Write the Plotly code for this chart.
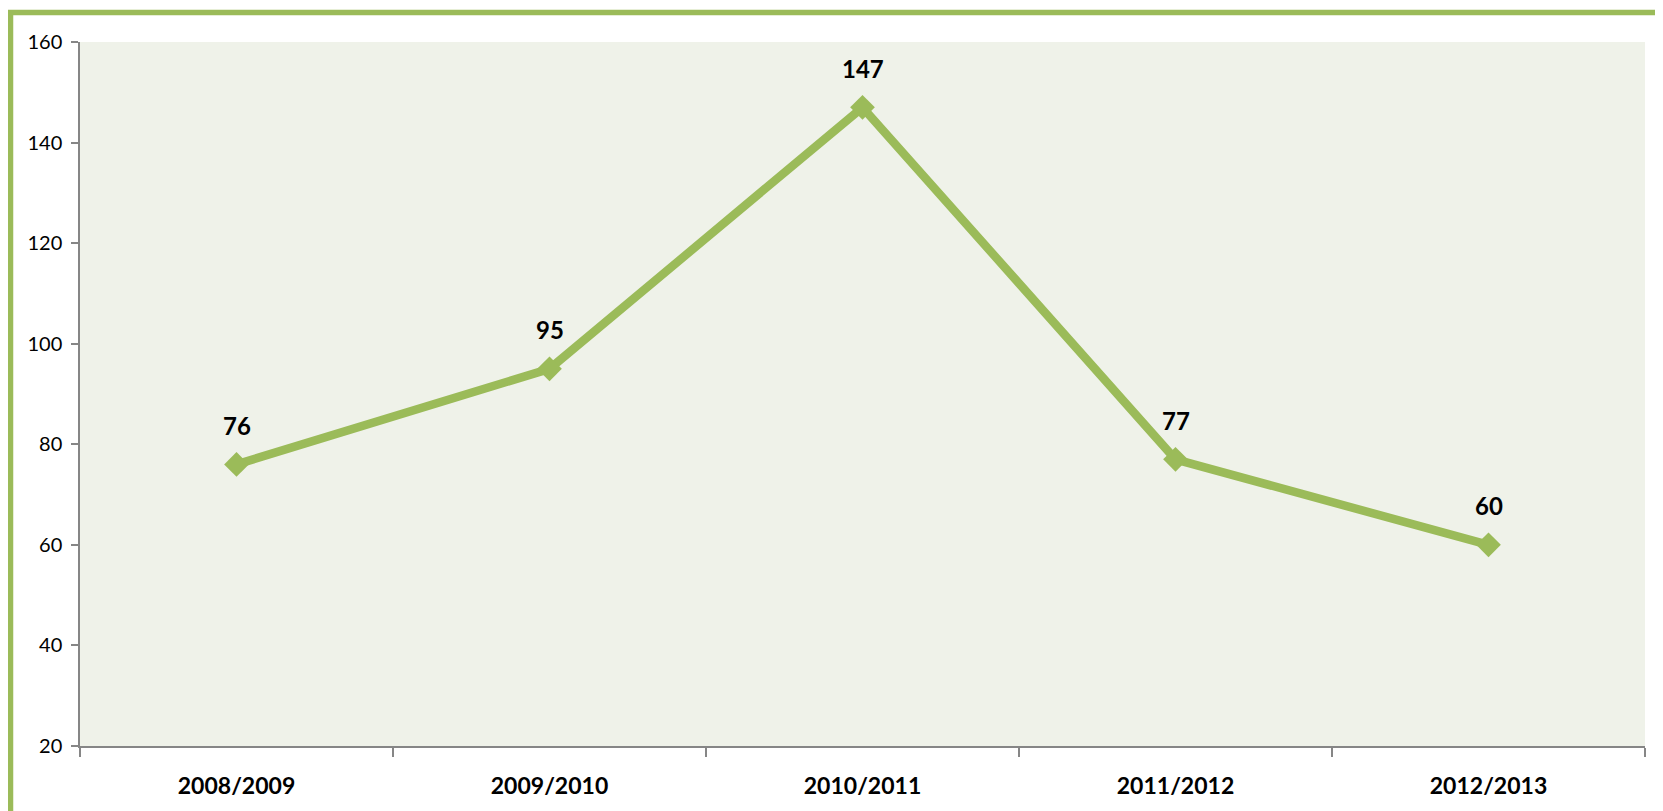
import plotly.graph_objects as go

categories = ["2008/2009", "2009/2010", "2010/2011", "2011/2012", "2012/2013"]
values = [76, 95, 147, 77, 60]
y_ticks = [20, 40, 60, 80, 100, 120, 140, 160]

GREEN = "#9BBB59"
AXIS = "#868686"
FONT = "Lato, 'Open Sans', sans-serif"

fig = go.Figure()
fig.add_trace(go.Scatter(
    x=categories, y=values, mode="lines+markers",
    line=dict(color=GREEN, width=8.5),
    marker=dict(symbol="diamond", size=19, color=GREEN),
    hoverinfo="skip", showlegend=False,
))

for c, v in zip(categories, values):
    fig.add_annotation(x=c, y=v, text=f"<b>{v}</b>", showarrow=False,
                       yshift=39, font=dict(family=FONT, size=24, color="black"))

# page body has an 8px margin, so the figure is drawn offset by (8, 8)
W, H = 1655, 803
L, R, T, B = 72, 18, 34, 65
pw, ph = W - L - R, H - T - B

def px(x):
    return (x - L) / pw

def py(y):
    return (H - B - y) / ph

# green frame (open at right and bottom)
fig.add_shape(type="rect", xref="paper", yref="paper",
              x0=px(2.5), x1=px(1700), y0=py(850), y1=py(4.5),
              line=dict(color=GREEN, width=5.5), fillcolor="rgba(0,0,0,0)", layer="below")

fig.update_layout(
    width=W, height=H,
    margin=dict(l=L, r=R, t=T, b=B),
    paper_bgcolor="white",
    plot_bgcolor="#EFF2E9",
    font=dict(family=FONT, color="black"),
    xaxis=dict(
        type="category", range=[-0.5, 4.5],
        showline=True, linecolor=AXIS, linewidth=1.5,
        ticks="outside", tickson="boundaries", ticklen=9, tickcolor=AXIS, tickwidth=1.5,
        showgrid=False, zeroline=False,
        tickfont=dict(family=FONT, size=23, color="black", weight="bold"),
        ticklabelstandoff=19,
    ),
    yaxis=dict(
        range=[20, 160], tickvals=y_ticks,
        showline=True, linecolor=AXIS, linewidth=1.5,
        ticks="outside", ticklen=7, tickcolor=AXIS, tickwidth=1.5,
        showgrid=False, zeroline=False,
        tickfont=dict(family=FONT, size=20, color="black"),
        ticklabelstandoff=5,
    ),
)

fig.write_html("out.html")
